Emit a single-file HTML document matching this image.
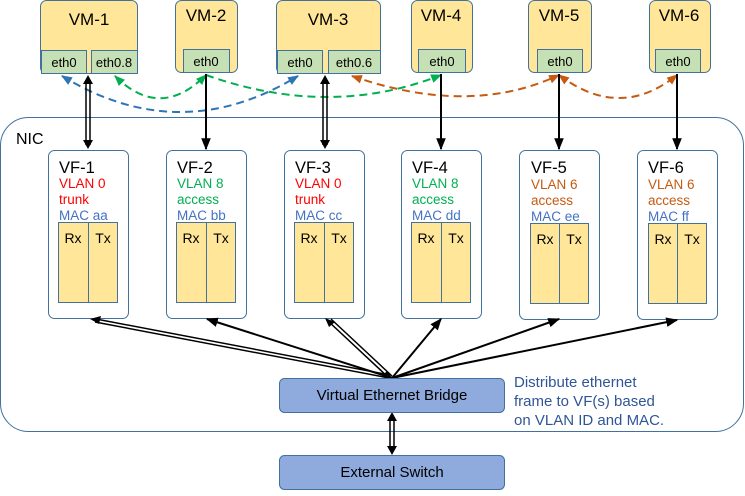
<!DOCTYPE html>
<html><head><meta charset="utf-8"><style>
body{margin:0;background:#fff}
svg text{font-family:"Liberation Sans",sans-serif}
</style></head><body>
<svg width="745" height="491" viewBox="0 0 745 491" xmlns="http://www.w3.org/2000/svg">
<defs>
<marker id="a" viewBox="0 0 10 10" refX="9" refY="5" markerWidth="6" markerHeight="6" orient="auto-start-reverse"><path d="M0,1 L10,5 L0,9 z" fill="#000"/></marker>
<marker id="ab" viewBox="0 0 10 10" refX="9" refY="5" markerWidth="5.5" markerHeight="5.5" orient="auto-start-reverse"><path d="M0,1 L10,5 L0,9 z" fill="#2e75b6"/></marker>
<marker id="ag" viewBox="0 0 10 10" refX="9" refY="5" markerWidth="5.5" markerHeight="5.5" orient="auto-start-reverse"><path d="M0,1 L10,5 L0,9 z" fill="#00b050"/></marker>
<marker id="ao" viewBox="0 0 10 10" refX="9" refY="5" markerWidth="5.5" markerHeight="5.5" orient="auto-start-reverse"><path d="M0,1 L10,5 L0,9 z" fill="#c55a11"/></marker>
</defs>
<rect x="0.5" y="117.5" width="743" height="314" rx="28" fill="#fff" stroke="#41719c"/>
<text x="16" y="144" font-size="16">NIC</text>
<g stroke="#41719c" stroke-width="1">
<rect x="40.5" y="0.5" width="97" height="73" rx="6" fill="#ffe699"/>
<rect x="41.5" y="50.5" width="45" height="23" fill="#c5e0b4"/><rect x="91.5" y="50.5" width="46" height="23" fill="#c5e0b4"/>
<rect x="175.5" y="0.5" width="62" height="72" rx="6" fill="#ffe699"/>
<rect x="183.5" y="49.5" width="46" height="23" fill="#c5e0b4"/>
<rect x="276.5" y="0.5" width="104" height="73" rx="6" fill="#ffe699"/>
<rect x="277.5" y="50.5" width="45" height="23" fill="#c5e0b4"/><rect x="328.5" y="50.5" width="52" height="23" fill="#c5e0b4"/>
<rect x="411.5" y="0.5" width="61" height="72" rx="6" fill="#ffe699"/>
<rect x="418.5" y="49.5" width="47" height="23" fill="#c5e0b4"/>
<rect x="528.5" y="0.5" width="63" height="72" rx="6" fill="#ffe699"/>
<rect x="537.5" y="49.5" width="45" height="23" fill="#c5e0b4"/>
<rect x="649.5" y="0.5" width="61" height="72" rx="6" fill="#ffe699"/>
<rect x="655.5" y="49.5" width="45" height="23" fill="#c5e0b4"/>
</g>
<g font-size="17" text-anchor="middle">
<text x="89" y="25">VM-1</text><text x="206" y="21">VM-2</text><text x="328" y="25">VM-3</text>
<text x="441" y="21">VM-4</text><text x="559" y="21">VM-5</text><text x="679" y="21">VM-6</text>
</g>
<g font-size="13" text-anchor="middle">
<text x="64" y="67">eth0</text><text x="114" y="67">eth0.8</text><text x="206" y="66">eth0</text>
<text x="300" y="67">eth0</text><text x="354" y="67">eth0.6</text><text x="442" y="66">eth0</text>
<text x="560" y="66">eth0</text><text x="678" y="66">eth0</text>
</g>
<g fill="none" stroke-width="2" stroke-dasharray="8,5">
<path d="M62,76 Q180,148 298,76" stroke="#2e75b6" marker-start="url(#ab)" marker-end="url(#ab)"/>
<path d="M115,76 Q160,121 206,75" stroke="#00b050" marker-start="url(#ag)" marker-end="url(#ag)"/>
<path d="M206,75 Q330,119 441,75" stroke="#00b050" marker-end="url(#ag)"/>
<path d="M352,76 Q470,117 559,75" stroke="#c55a11" marker-start="url(#ao)" marker-end="url(#ao)"/>
<path d="M559,75 Q620,121 677,75" stroke="#c55a11" marker-start="url(#ao)" marker-end="url(#ao)"/>
</g>
<g stroke="#000" fill="none">
<path d="M86,80 V145 M90,80 V145" stroke-width="1.5"/>
<path d="M323,80 V145 M327,80 V145" stroke-width="1.5"/>
<path d="M88,75 L83,84 H93 z M88,149 L83,140 H93 z M325,75 L320,84 H330 z M325,149 L320,140 H330 z" fill="#000" stroke="none"/>
<line x1="206" y1="74" x2="206" y2="149" stroke-width="2" marker-end="url(#a)"/>
<line x1="441" y1="74" x2="441" y2="149" stroke-width="2" marker-end="url(#a)"/>
<line x1="559" y1="74" x2="559" y2="149" stroke-width="2" marker-end="url(#a)"/>
<line x1="677" y1="74" x2="677" y2="149" stroke-width="2" marker-end="url(#a)"/>
</g>
<g stroke="#41719c" fill="#fff">
<rect x="48.5" y="150.5" width="80" height="168" rx="6"/><rect x="166.5" y="150.5" width="80" height="168" rx="6"/>
<rect x="284.5" y="150.5" width="80" height="168" rx="6"/><rect x="401.5" y="150.5" width="80" height="168" rx="6"/>
<rect x="519.5" y="150.5" width="80" height="169" rx="6"/><rect x="637.5" y="150.5" width="80" height="169" rx="6"/>
</g>
<g stroke="#41719c" fill="#ffe699">
<rect x="58.5" y="222.5" width="30" height="80"/><rect x="88.5" y="222.5" width="29" height="80"/>
<rect x="176.5" y="222.5" width="30" height="80"/><rect x="206.5" y="222.5" width="29" height="80"/>
<rect x="294.5" y="222.5" width="30" height="80"/><rect x="324.5" y="222.5" width="29" height="80"/>
<rect x="411.5" y="222.5" width="30" height="80"/><rect x="441.5" y="222.5" width="29" height="80"/>
<rect x="530.5" y="223.5" width="29" height="80"/><rect x="559.5" y="223.5" width="29" height="80"/>
<rect x="648.5" y="223.5" width="29" height="80"/><rect x="677.5" y="223.5" width="29" height="80"/>
</g>
<g font-size="14" text-anchor="middle">
<text x="73" y="243">Rx</text><text x="103" y="243">Tx</text>
<text x="191" y="243">Rx</text><text x="221" y="243">Tx</text>
<text x="309" y="243">Rx</text><text x="339" y="243">Tx</text>
<text x="426" y="243">Rx</text><text x="456" y="243">Tx</text>
<text x="545" y="244">Rx</text><text x="574" y="244">Tx</text>
<text x="663" y="244">Rx</text><text x="692" y="244">Tx</text>
</g>
<g font-size="16.5"><text x="59" y="173">VF-1</text><text x="177" y="173">VF-2</text><text x="295" y="173">VF-3</text><text x="412" y="173">VF-4</text><text x="531" y="173">VF-5</text><text x="648" y="173">VF-6</text></g>
<g font-size="13.5">
<text x="59" y="188" fill="#ff0000">VLAN 0</text><text x="59" y="204" fill="#ff0000">trunk</text><text x="59" y="220" fill="#4472c4">MAC aa</text>
<text x="177" y="188" fill="#00b050">VLAN 8</text><text x="177" y="204" fill="#00b050">access</text><text x="177" y="220" fill="#4472c4">MAC bb</text>
<text x="295" y="188" fill="#ff0000">VLAN 0</text><text x="295" y="204" fill="#ff0000">trunk</text><text x="295" y="220" fill="#4472c4">MAC cc</text>
<text x="412" y="188" fill="#00b050">VLAN 8</text><text x="412" y="204" fill="#00b050">access</text><text x="412" y="220" fill="#4472c4">MAC dd</text>
<text x="531" y="189" fill="#c55a11">VLAN 6</text><text x="531" y="205" fill="#c55a11">access</text><text x="531" y="221" fill="#4472c4">MAC ee</text>
<text x="648" y="189" fill="#c55a11">VLAN 6</text><text x="648" y="205" fill="#c55a11">access</text><text x="648" y="221" fill="#4472c4">MAC ff</text>
</g>
<g stroke="#000" fill="none" stroke-width="1.5">
<path d="M96,319 L390,375 M95,322 L389,378"/>
<path d="M331,319 L392,376 M328,321 L389,378"/>
<line x1="392" y1="378" x2="207" y2="319" stroke-width="2" marker-end="url(#a)"/>
<line x1="392" y1="378" x2="441" y2="319" stroke-width="2" marker-end="url(#a)"/>
<line x1="392" y1="378" x2="559" y2="319" stroke-width="2" marker-end="url(#a)"/>
<line x1="392" y1="378" x2="677" y2="320" stroke-width="2" marker-end="url(#a)"/>
<path d="M90,319 L101,316 L99,324 z M325,318 L335,322 L329,327 z M393,379 L381,377 L387,371 z" fill="#000" stroke="none"/>
<path d="M390,418 V450 M394,418 V450"/>
<path d="M392,412 L387,421 H397 z M392,455 L387,446 H397 z" fill="#000" stroke="none"/>
</g>
<rect x="279.5" y="378.5" width="225" height="34" rx="5" fill="#8faadc" stroke="#41719c"/>
<text x="392" y="400" font-size="15" text-anchor="middle">Virtual Ethernet Bridge</text>
<rect x="279.5" y="455.5" width="225" height="34" rx="5" fill="#8faadc" stroke="#41719c"/>
<text x="392" y="477" font-size="15" text-anchor="middle">External Switch</text>
<g font-size="15" fill="#2f5597"><text x="514" y="387">Distribute ethernet</text><text x="514" y="406">frame to VF(s) based</text><text x="514" y="425">on VLAN ID and MAC.</text></g>
</svg>
</body></html>
